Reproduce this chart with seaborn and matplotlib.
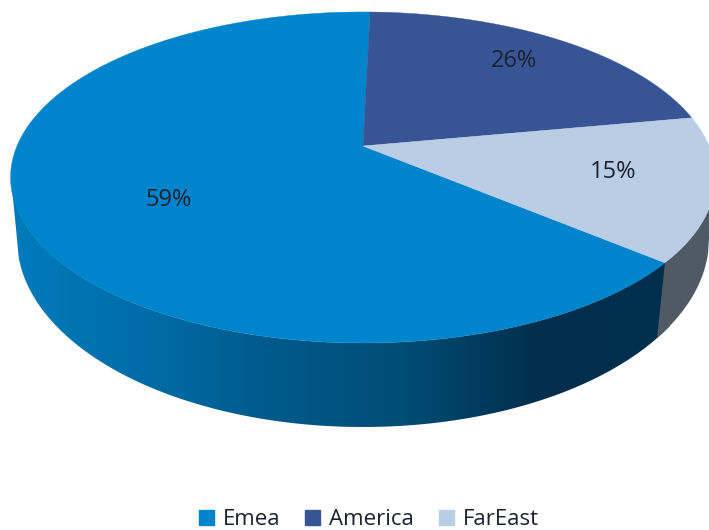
import numpy as np
import matplotlib
matplotlib.use('Agg')
import matplotlib.pyplot as plt
from matplotlib.patches import Patch, Polygon
import seaborn as sns

regions = ['Emea', 'America', 'FarEast']
shares = [59, 26, 15]
colors = ['#0085CC', '#375594', '#B9CDE5']

sns.set_theme(style='white')
plt.rcParams['font.family'] = ['Open Sans', 'DejaVu Sans']
TEXT = '#1C2230'

# pie geometry in pixels: apex of the slices, tilt and the lower rim
APEX = (363, 146)
A, B, K = 346, 159.5, 0.19
RIM_X, RIM_Y, RIM_RX, RIM_RY = 363, 239, 346, 188
START = 149.2  # clockwise from 12 o'clock, Emea comes first


def project(t):
    # true pie angle -> screen position, foreshortened the way the 3D view does it
    r = np.radians(t)
    s = np.radians(t - 8.56 * (1 - np.cos(r)) - 6.42 * np.sin(r))
    u, v = np.sin(s), np.cos(s)
    w = 1 + K * v
    return APEX[0] + A * u / w, APEX[1] - B * v / w


def top_arc(xs):
    # lower arc of the top face
    return 177.5 + 165.5 * np.sqrt(np.clip(1 - ((xs - 363) / 352) ** 2, 0, 1))


def rim_arc(xs):
    return RIM_Y + RIM_RY * np.sqrt(np.clip(1 - ((xs - RIM_X) / RIM_RX) ** 2, 0, 1))


fig, ax = plt.subplots(figsize=(7.09, 5.30), dpi=100)
ax.set_position([0, 0, 1, 1])
ax.axis('off')

# side wall: Emea part has a left to right gradient
xs = np.linspace(17, 709, 400)
wall_x = np.r_[11, xs, xs[::-1], 11]
wall_y = np.r_[177.5, rim_arc(xs), top_arc(xs[::-1]), 177.5]
wall = Polygon(np.c_[wall_x, wall_y], closed=True, transform=ax.transData, fc='none', ec='none')
ax.add_patch(wall)
shade = sns.blend_palette(['#007BBC', '#006DA8', '#00598A', '#004D75', '#002E4C', '#002F4E'], as_cmap=True)
img = ax.imshow(np.linspace(0, 1, 256).reshape(1, -1), extent=(11, 670, 440, 170),
                cmap=shade, aspect='auto', zorder=1)
img.set_clip_path(wall)
ax.set_xlim(0, 709)
ax.set_ylim(530, 0)

# FarEast part of the wall
xg = np.linspace(657, 709, 60)
xt = np.linspace(665, 709, 60)
ax.fill(np.r_[xg, xt[::-1]], np.r_[rim_arc(xg), top_arc(xt)[::-1]],
        color='#505A64', lw=0, zorder=2)

# top face
ts = START
for share, color in zip(shares, colors):
    angle = share * 3.6
    px, py = project(np.linspace(ts, ts + angle, 200))
    ax.fill(np.r_[APEX[0], px], np.r_[APEX[1], py], color=color, lw=0.3, zorder=3)
    ts += angle

label_pos = [(169, 200), (514, 61), (613, 172)]
for share, (lx, ly) in zip(shares, label_pos):
    ax.text(lx, ly, f'{share}%', ha='center', va='center', fontsize=17, color=TEXT, zorder=4)

handles = [Patch(color=c, label=r) for c, r in zip(colors, regions)]
ax.legend(handles=handles, loc='lower center', bbox_to_anchor=(0.5205, 0.0), ncol=3, frameon=False,
          fontsize=16, labelcolor=TEXT, handlelength=0.68, handleheight=0.68, handletextpad=0.4,
          columnspacing=1.12, borderpad=0, borderaxespad=0)

fig.savefig('out.png', dpi=100)
